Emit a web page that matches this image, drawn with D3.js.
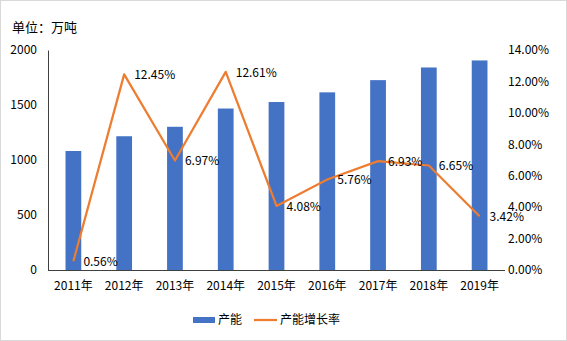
<!DOCTYPE html>
<html><head><meta charset="utf-8">
<script src="https://cdn.jsdelivr.net/npm/d3@7"></script>
<style>body{margin:0;background:#fff}svg{display:block}text{font-family:"Noto Sans CJK SC","Microsoft YaHei",sans-serif;fill:#000}</style>
</head><body><svg id="c" width="567" height="341"></svg>
<script>
const years = ["2011年","2012年","2013年","2014年","2015年","2016年","2017年","2018年","2019年"];
const capacity = [1082,1216,1302,1468,1527,1615,1726,1841,1905];
const growth = [0.56,12.45,6.97,12.61,4.08,5.76,6.93,6.65,3.42];
const leftTicks = [0,500,1000,1500,2000];
const rightTicks = [0,2,4,6,8,10,12,14];

const svg = d3.select("#c");
svg.append("rect").attr("x",0.5).attr("y",0.5).attr("width",566).attr("height",340).attr("fill","#fff").attr("stroke","#d9d9d9");
const L=48,R=505,T=50,B=270;
const x = d3.scaleBand().domain(years).range([L,R]).paddingInner(0.69).paddingOuter(0.345);
const y = d3.scaleLinear().domain([0,2000]).range([B,T]);
const y2 = d3.scaleLinear().domain([0,14]).range([B,T]);

svg.append("text").attr("x",12).attr("y",32).attr("font-size",13).text("单位：万吨");

svg.selectAll("rect.bar").data(capacity).join("rect").attr("class","bar")
  .attr("x",(d,i)=>x(years[i])).attr("width",x.bandwidth())
  .attr("y",d=>y(d)).attr("height",d=>B-y(d)).attr("fill","#4472C4");

const gl = svg.append("g").attr("transform",`translate(${L},0)`)
  .call(d3.axisLeft(y).tickValues(leftTicks).tickSize(0).tickPadding(11).tickFormat(d3.format("d")));
gl.select(".domain").attr("stroke","#404040");
gl.selectAll("text").attr("font-size",12).style("font-family","'Noto Sans CJK SC',sans-serif");

const gr = svg.append("g").attr("transform",`translate(${R},0)`)
  .call(d3.axisRight(y2).tickValues(rightTicks).tickSize(0).tickPadding(3).tickFormat(d=>d.toFixed(2)+"%"));
gr.select(".domain").remove();
gr.selectAll("text").attr("font-size",12).style("font-family","'Noto Sans CJK SC',sans-serif");

const gb = svg.append("g").attr("transform",`translate(0,${B})`)
  .call(d3.axisBottom(x).tickSize(0).tickPadding(11));
gb.select(".domain").attr("stroke","#404040").attr("d",`M${L},0.5H${R}`);
gb.selectAll("text").attr("font-size",12).style("font-family","'Noto Sans CJK SC',sans-serif");

const cx = i => x(years[i]) + x.bandwidth()/2;
const line = d3.line().x((d,i)=>cx(i)).y(d=>y2(d));
svg.append("path").datum(growth).attr("d",line).attr("fill","none").attr("stroke","#ED7D31").attr("stroke-width",2.25).attr("stroke-linejoin","round");

svg.selectAll("text.lab").data(growth).join("text").attr("class","lab")
  .attr("x",(d,i)=>cx(i)+10).attr("y",d=>y2(d)).attr("dy","0.4em").attr("font-size",12)
  .text(d=>d.toFixed(2)+"%");

const lg = svg.append("g");
lg.append("rect").attr("x",193).attr("y",317).attr("width",22).attr("height",6).attr("fill","#4472C4");
lg.append("text").attr("x",218).attr("y",320).attr("dy","0.35em").attr("font-size",12).text("产能");
lg.append("line").attr("x1",254).attr("x2",277).attr("y1",320).attr("y2",320).attr("stroke","#ED7D31").attr("stroke-width",2.25);
lg.append("text").attr("x",280).attr("y",320).attr("dy","0.35em").attr("font-size",12).text("产能增长率");
</script></body></html>
